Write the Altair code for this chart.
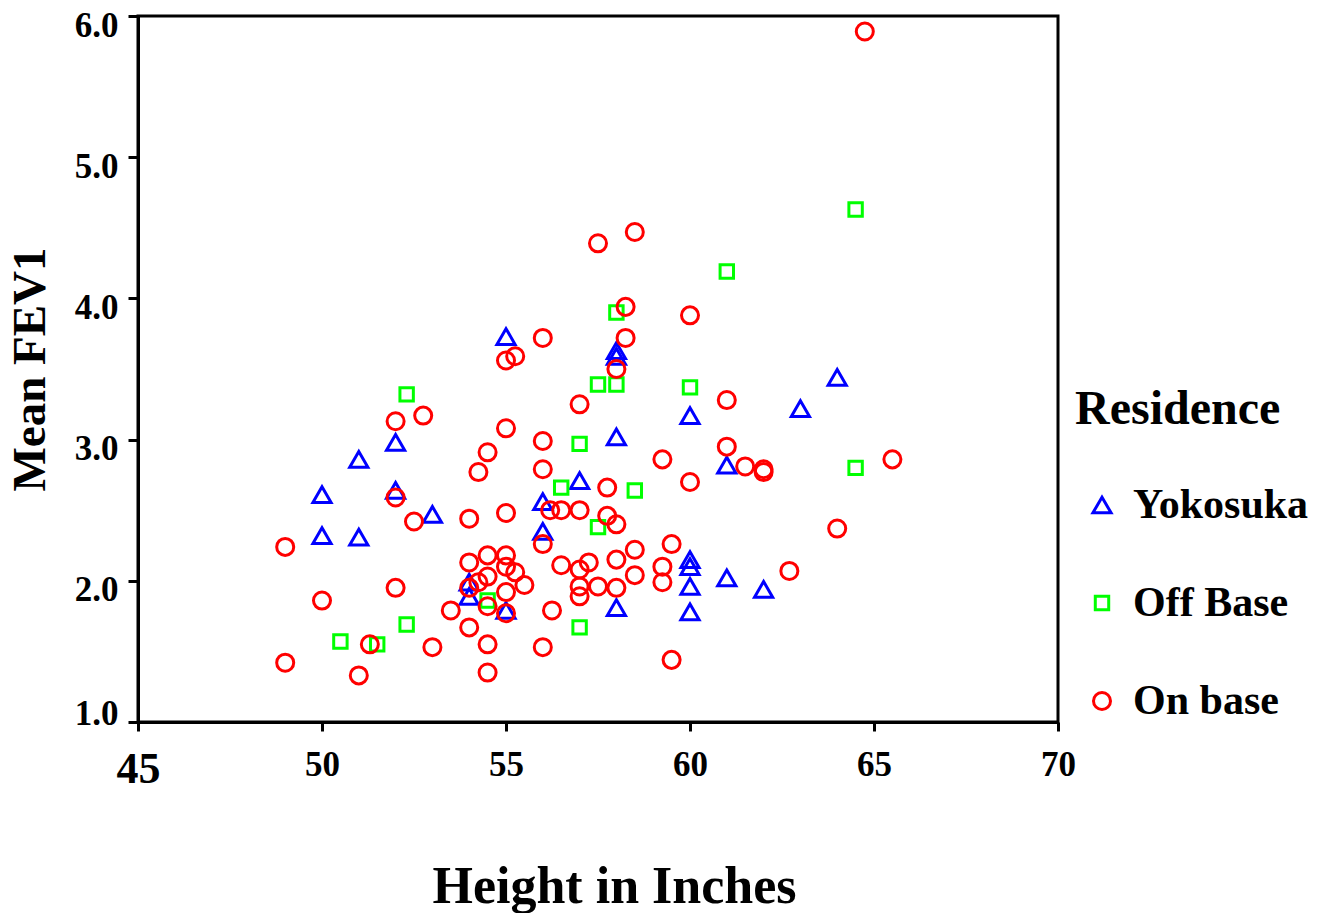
import altair as alt
import pandas as pd

# Residence groups, legend order
residence_order = ["Yokosuka", "Off Base", "On base"]
residence_colors = ["#0000FF", "#00FF00", "#FF0000"]
residence_shapes = ["triangle-up", "square", "circle"]
residence_sizes = [330, 180, 290]

# Yokosuka children: height (in) and mean FEV1 (L)
yokosuka_height = [55.0, 58.0, 58.0, 51.0, 50.0, 52.0, 52.0, 53.0, 50.0, 51.0,
                   56.0, 56.0, 55.0, 54.0, 54.0, 57.0, 58.0, 60.0, 64.0, 63.0,
                   61.0, 60.0, 60.0, 60.0, 60.0, 61.0, 62.0, 58.0]
yokosuka_fev1 = [3.73, 3.63, 3.59, 2.86, 2.61, 2.98, 2.64, 2.47, 2.32, 2.31,
                 2.56, 2.35, 1.79, 1.99, 1.89, 2.71, 3.02, 3.17, 3.44, 3.22,
                 2.82, 2.15, 2.10, 1.96, 1.78, 2.02, 1.94, 1.81]

# Off-base children
offbase_height = [64.5, 61.0, 58.0, 57.5, 58.0, 60.0, 52.3, 57.0, 56.5, 58.5,
                  64.5, 57.5, 54.5, 57.0, 52.3, 50.5, 51.5]
offbase_fev1 = [4.63, 4.19, 3.90, 3.39, 3.39, 3.37, 3.32, 2.97, 2.66, 2.64,
                2.80, 2.38, 1.86, 1.67, 1.69, 1.57, 1.55]

# On-base children
onbase_height = [64.75, 57.5, 58.5, 58.25, 60.0, 56.0, 58.25, 55.0, 55.25, 58.0,
                 57.0, 61.0, 52.0, 52.75, 55.0, 56.0, 54.5, 54.25, 56.0, 61.0,
                 59.25, 61.5, 62.0, 62.0, 65.5, 60.0, 57.75, 52.0, 52.5, 54.0,
                 55.0, 56.2, 56.5, 57.0, 57.75, 58.0, 64.0, 49.0, 56.0, 58.5,
                 59.5, 54.0, 54.5, 55.0, 55.0, 54.5, 54.0, 54.25, 55.25, 55.5,
                 55.0, 54.5, 53.5, 54.0, 54.5, 53.0, 54.5, 56.25, 56.0, 56.5,
                 57.0, 57.25, 57.0, 57.0, 57.5, 58.0, 58.0, 58.5, 59.25, 59.25,
                 59.5, 62.7, 50.0, 52.0, 49.0, 51.0, 51.3, 55.0]
onbase_fev1 = [5.89, 4.39, 4.47, 3.94, 3.88, 3.72, 3.72, 3.56, 3.59, 3.50,
               3.25, 3.28, 3.13, 3.17, 3.08, 2.99, 2.91, 2.77, 2.79, 2.95,
               2.86, 2.81, 2.79, 2.77, 2.86, 2.70, 2.66, 2.59, 2.42, 2.44,
               2.48, 2.50, 2.50, 2.50, 2.46, 2.40, 2.37, 2.24, 2.26, 2.22,
               2.26, 2.13, 2.18, 2.18, 2.10, 2.03, 1.95, 1.99, 2.06, 1.97,
               1.92, 1.82, 1.79, 1.67, 1.55, 1.53, 1.35, 1.79, 1.53, 2.11,
               2.08, 2.13, 1.96, 1.89, 1.96, 2.15, 1.95, 2.04, 2.10, 1.99,
               1.44, 2.07, 1.86, 1.95, 1.42, 1.33, 1.55, 1.77]

x_ticks = [45, 50, 55, 60, 65, 70]
y_ticks = [1, 2, 3, 4, 5, 6]

frames = []
for name, hs, fs in [("Yokosuka", yokosuka_height, yokosuka_fev1),
                     ("Off Base", offbase_height, offbase_fev1),
                     ("On base", onbase_height, onbase_fev1)]:
    frames.append(pd.DataFrame({"Height": hs, "FEV1": fs, "Residence": name}))
df = pd.concat(frames, ignore_index=True)

FONT = "Liberation Serif"

legend = alt.Legend(
    title="Residence",
    orient="none",
    legendX=937,
    legendY=370,
    padding=0,
    titleFont=FONT,
    titleFontSize=48,
    titleFontWeight="bold",
    titleColor="black",
    titlePadding=50,
    titleLimit=0,
    labelFont=FONT,
    labelFontSize=42,
    labelFontWeight="bold",
    labelColor="black",
    labelBaseline="middle",
    labelLimit=0,
    labelOffset=10,
    symbolOffset=6,
    symbolStrokeWidth=3,
    symbolFillColor="transparent",
    rowPadding=56,
)

points = alt.Chart(df).mark_point(filled=False, strokeWidth=3, opacity=1).encode(
    x=alt.X(
        "Height:Q",
        scale=alt.Scale(domain=[45, 70], nice=False, zero=False),
        axis=alt.Axis(
            title="Height in Inches",
            values=x_ticks,
            format="d",
            grid=False,
            domainColor="black",
            domainWidth=3,
            tickColor="black",
            tickWidth=3,
            tickSize=9,
            labelFont=FONT,
            labelFontWeight="bold",
            labelColor="black",
            labelFontSize={"condition": {"test": "datum.value == 45", "value": 44}, "value": 35},
            labelPadding=16,
            labelFlush=False,
            titleFont=FONT,
            titleFontSize=52,
            titleFontWeight="bold",
            titleColor="black",
            titleX=476,
            titleY=164,
            titleAlign="center",
            titleBaseline="middle",
        ),
    ),
    y=alt.Y(
        "FEV1:Q",
        scale=alt.Scale(domain=[1, 6], nice=False, zero=False),
        axis=alt.Axis(
            title="Mean FEV1",
            values=y_ticks,
            format=".1f",
            grid=False,
            domainColor="black",
            domainWidth=3,
            tickColor="black",
            tickWidth=3,
            tickSize=10,
            labelFont=FONT,
            labelFontWeight="bold",
            labelColor="black",
            labelFontSize=35,
            labelPadding=10,
            labelFlush=False,
            labelBaseline="middle",
            labelOffset={"condition": {"test": "datum.value == 1", "value": -9}, "value": 9},
            titleFont=FONT,
            titleFontSize=47,
            titleFontWeight="bold",
            titleColor="black",
            titleAngle=-90,
            titleX=-108,
            titleY=353,
            titleAlign="center",
            titleBaseline="middle",
        ),
    ),
    color=alt.Color("Residence:N",
                    scale=alt.Scale(domain=residence_order, range=residence_colors),
                    legend=legend),
    shape=alt.Shape("Residence:N",
                    scale=alt.Scale(domain=residence_order, range=residence_shapes),
                    legend=legend),
    size=alt.Size("Residence:N",
                  scale=alt.Scale(type="ordinal", domain=residence_order, range=residence_sizes),
                  legend=legend),
    order=alt.Order("order:Q"),
).transform_calculate(
    order="datum.Residence == 'Yokosuka' ? 0 : (datum.Residence == 'Off Base' ? 1 : 2)"
)

chart = points.properties(
    width=920,
    height=706,
    autosize=alt.AutoSizeParams(type="none"),
    padding={"left": 138, "top": 16, "right": 272, "bottom": 191},
    background="white",
).configure_view(
    stroke="black",
    strokeWidth=3,
)

chart.save("out.html", embed_options={"renderer": "svg", "actions": False})
